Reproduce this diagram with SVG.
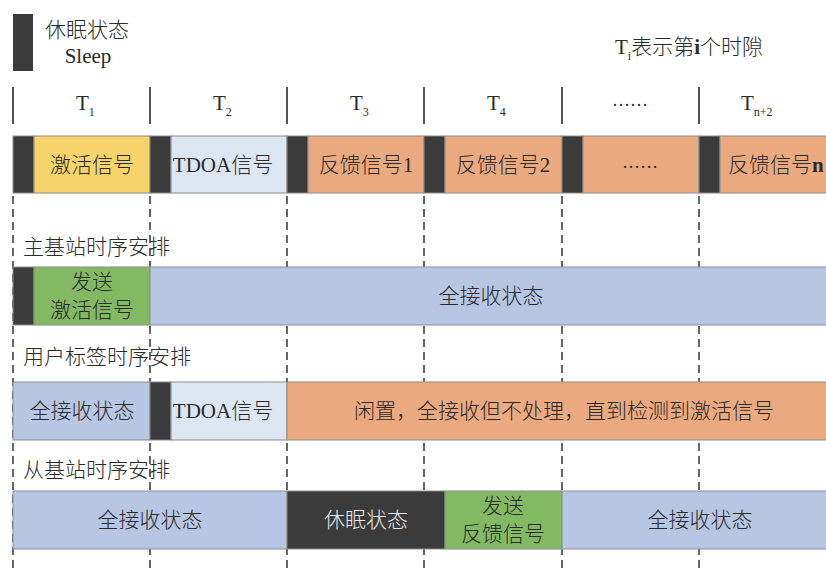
<svg xmlns="http://www.w3.org/2000/svg" width="826" height="573" viewBox="0 0 826 573">
<style>
text{font-family:"Liberation Serif","Noto Sans CJK SC",serif;font-size:21px;fill:#2a2a2a;}
.c{text-anchor:middle;}
.cj{font-family:"Noto Sans CJK SC","Liberation Serif",sans-serif;font-weight:300;}
.sub{font-size:12px;}
.bar{stroke:#8c8c8c;stroke-width:1;}
.sl{fill:#3b3b3b;}
.ye{fill:#f6d36b;}
.lb{fill:#dce6f2;}
.or{fill:#eba97f;}
.gr{fill:#83b962;}
.bl{fill:#b7c7e3;}
.tick{stroke:#555;stroke-width:2;}
.dash{stroke:#333;stroke-width:1.5;stroke-dasharray:8 5;fill:none;}
</style>
<rect width="826" height="573" fill="#fff"/>

<g id="grid">
<g class="tick">
<line x1="13" y1="87" x2="13" y2="124"/>
<line x1="150" y1="87" x2="150" y2="124"/>
<line x1="287" y1="87" x2="287" y2="124"/>
<line x1="424" y1="87" x2="424" y2="124"/>
<line x1="562" y1="87" x2="562" y2="124"/>
<line x1="699" y1="87" x2="699" y2="124"/>
</g>
<g class="dash">
<line x1="13" y1="196" x2="13" y2="573"/>
<line x1="150" y1="196" x2="150" y2="573"/>
<line x1="287" y1="196" x2="287" y2="573"/>
<line x1="424" y1="196" x2="424" y2="573"/>
<line x1="562" y1="196" x2="562" y2="573"/>
<line x1="699" y1="196" x2="699" y2="573"/>
</g>
</g>

<g id="legend">
<rect x="13" y="14" width="20" height="57" class="sl"/>
<text x="45" y="37" class="cj">休眠状态</text>
<text x="88" y="63" class="c">Sleep</text>
<text x="615" y="54">T<tspan class="sub" dy="6">i</tspan><tspan dy="-6" class="cj">表示第</tspan><tspan font-weight="bold">i</tspan><tspan class="cj">个时隙</tspan></text>
</g>

<g id="slot-labels">
<text x="76" y="110">T<tspan class="sub" dy="6">1</tspan></text>
<text x="213" y="110">T<tspan class="sub" dy="6">2</tspan></text>
<text x="350" y="110">T<tspan class="sub" dy="6">3</tspan></text>
<text x="487" y="110">T<tspan class="sub" dy="6">4</tspan></text>
<text x="630" y="106" class="c" style="font-size:18px">……</text>
<text x="741" y="110">T<tspan class="sub" dy="6">n+2</tspan></text>
</g>

<g id="row-signals">
<rect x="13" y="136" width="21" height="57" class="sl bar"/>
<rect x="34" y="136" width="116" height="57" class="ye bar"/>
<rect x="150" y="136" width="21" height="57" class="sl bar"/>
<rect x="171" y="136" width="116" height="57" class="lb bar"/>
<rect x="287" y="136" width="21" height="57" class="sl bar"/>
<rect x="308" y="136" width="116" height="57" class="or bar"/>
<rect x="424" y="136" width="21" height="57" class="sl bar"/>
<rect x="445" y="136" width="117" height="57" class="or bar"/>
<rect x="562" y="136" width="21" height="57" class="sl bar"/>
<rect x="583" y="136" width="116" height="57" class="or bar"/>
<rect x="699" y="136" width="21" height="57" class="sl bar"/>
<rect x="720" y="136" width="110" height="57" class="or bar"/>
<text x="92" y="172" class="c cj">激活信号</text>
<text x="223" y="172" class="c">TDOA<tspan class="cj">信号</tspan></text>
<text x="366" y="172" class="c"><tspan class="cj">反馈信号</tspan>1</text>
<text x="503" y="172" class="c"><tspan class="cj">反馈信号</tspan>2</text>
<text x="640" y="168" class="c" style="font-size:18px">……</text>
<text x="728" y="172"><tspan class="cj">反馈信号</tspan><tspan font-weight="bold">n</tspan></text>
</g>

<g id="master">
<text x="23" y="254" class="cj">主基站时序安排</text>
<rect x="13" y="267" width="21" height="58" class="sl bar"/>
<rect x="34" y="267" width="116" height="58" class="gr bar"/>
<rect x="150" y="267" width="680" height="58" class="bl bar"/>
<text x="92" y="289" class="c cj">发送</text>
<text x="92" y="317" class="c cj">激活信号</text>
<text x="491" y="303" class="c cj">全接收状态</text>
</g>

<g id="tag">
<text x="23" y="364" class="cj">用户标签时序安排</text>
<rect x="13" y="382" width="137" height="58" class="bl bar"/>
<rect x="150" y="382" width="21" height="58" class="sl bar"/>
<rect x="171" y="382" width="116" height="58" class="lb bar"/>
<rect x="287" y="382" width="543" height="58" class="or bar"/>
<text x="82" y="418" class="c cj">全接收状态</text>
<text x="223" y="418" class="c">TDOA<tspan class="cj">信号</tspan></text>
<text x="564" y="418" class="c cj">闲置，全接收但不处理，直到检测到激活信号</text>
</g>

<g id="slave">
<text x="23" y="477" class="cj">从基站时序安排</text>
<rect x="13" y="491" width="274" height="58" class="bl bar"/>
<rect x="287" y="491" width="158" height="58" class="sl bar"/>
<rect x="445" y="491" width="117" height="58" class="gr bar"/>
<rect x="562" y="491" width="268" height="58" class="bl bar"/>
<text x="150" y="527" class="c cj">全接收状态</text>
<text x="366" y="527" class="c cj" style="fill:#e8e8e8">休眠状态</text>
<text x="503" y="513" class="c cj">发送</text>
<text x="503" y="541" class="c cj">反馈信号</text>
<text x="700" y="527" class="c cj">全接收状态</text>
</g>
</svg>
